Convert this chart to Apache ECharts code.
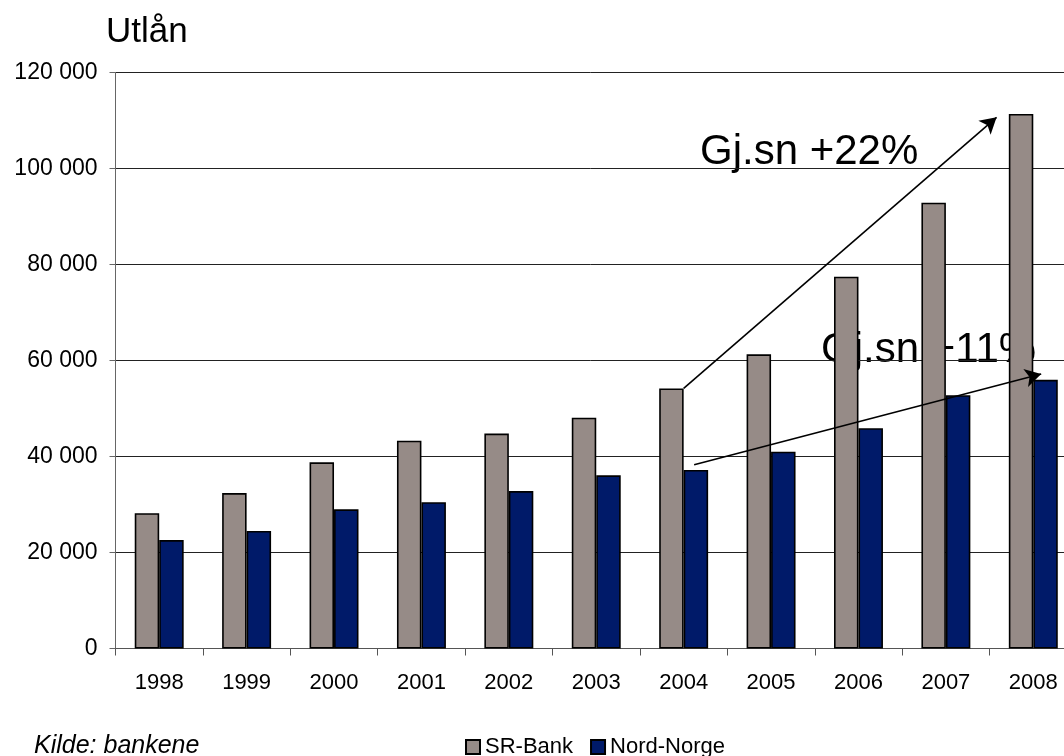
<!DOCTYPE html>
<html>
<head>
<meta charset="utf-8">
<script src="https://cdn.jsdelivr.net/npm/echarts@6/dist/echarts.min.js"></script>
<style>
html,body{margin:0;padding:0;background:#fff;}
#chart{width:1064px;height:756px;}
</style>
</head>
<body>
<div id="chart"></div>
<script>
const years = ['1998','1999','2000','2001','2002','2003','2004','2005','2006','2007','2008'];
const srBank = [28200, 32400, 38800, 43300, 44800, 48100, 54200, 61300, 77500, 92900, 111400];
const nordNorge = [22600, 24500, 29000, 30500, 32800, 36100, 37200, 41000, 45900, 52800, 56000];
const yTicks = [0, 20000, 40000, 60000, 80000, 100000, 120000];
// annotation arrows in data space: [categoryIndex, value]
const arrow22 = [[6.0, 54200], [9.58, 110700]];
const arrow11 = [[6.12, 38300], [10.09, 57200]];
const label22 = 'Gj.sn +22%';
const label11 = 'Gj.sn +11%';

const FONT = '"Liberation Sans", Arial, sans-serif';
const chart = echarts.init(document.getElementById('chart'), null, {renderer: 'canvas'});

function fmt(v) {
  return String(v).replace(/\B(?=(\d{3})+(?!\d))/g, ' ');
}

chart.setOption({
  animation: false,
  backgroundColor: '#fff',
  textStyle: {fontFamily: FONT},
  grid: {left: 115.5, right: -13, top: 72.7, bottom: 107.5, containLabel: false, outerBoundsMode: 'none'},
  legend: {
    data: ['SR-Bank', 'Nord-Norge'],
    left: 460, top: 731,
    itemWidth: 14, itemHeight: 14, itemGap: 17,
    icon: 'rect',
    textStyle: {fontSize: 22, color: '#000', fontFamily: FONT}
  },
  xAxis: [{
    type: 'category',
    data: years,
    axisLine: {lineStyle: {color: '#555', width: 1}},
    axisTick: {show: true, length: 7, lineStyle: {color: '#555'}},
    axisLabel: {fontSize: 22, color: '#000', margin: 23, fontFamily: FONT},
    splitLine: {show: false}
  }, {
    type: 'value', min: -0.5, max: 10.5, show: false
  }],
  yAxis: {
    type: 'value',
    min: yTicks[0], max: yTicks[yTicks.length - 1], interval: yTicks[1] - yTicks[0],
    axisLine: {show: true, onZero: false, lineStyle: {color: '#666', width: 1}},
    axisTick: {show: true, length: 6, lineStyle: {color: '#666'}},
    axisLabel: {fontSize: 23, color: '#000', margin: 18, fontFamily: FONT, formatter: fmt},
    splitLine: {show: true, lineStyle: {color: '#222', width: 1}}
  },
  series: [{
    name: 'SR-Bank', type: 'bar', data: srBank,
    barWidth: '28%', barGap: '0%',
    itemStyle: {color: '#968B87', borderColor: '#000', borderWidth: 1.6}
  }, {
    name: 'Nord-Norge', type: 'bar', data: nordNorge,
    barWidth: '28%', barGap: '0%',
    itemStyle: {color: '#001A69', borderColor: '#000', borderWidth: 1.6}
  }, {
    name: 'arrows', type: 'line', xAxisIndex: 1, data: [],
    silent: true,
    markLine: {
      silent: true,
      symbol: ['none', 'arrow'],
      symbolSize: [14, 16],
      label: {show: false},
      lineStyle: {color: '#000', width: 1.6, type: 'solid'},
      data: [
        [{coord: arrow22[0]}, {coord: arrow22[1]}],
        [{coord: arrow11[0]}, {coord: arrow11[1]}]
      ]
    }
  }],
  graphic: [
    {type: 'text', left: 106, top: 15, style: {text: 'Utlån', font: '35px ' + FONT, fill: '#000'}},
    {type: 'text', left: 700, top: 131, style: {text: label22, font: '42px ' + FONT, fill: '#000'}},
    {type: 'text', left: 821, top: 329, style: {text: label11, font: '42px ' + FONT, fill: '#000'}},
    {type: 'text', left: 34, top: 734, style: {text: 'Kilde: bankene', font: 'italic 25px ' + FONT, fill: '#000'}}
  ]
});
</script>
</body>
</html>
